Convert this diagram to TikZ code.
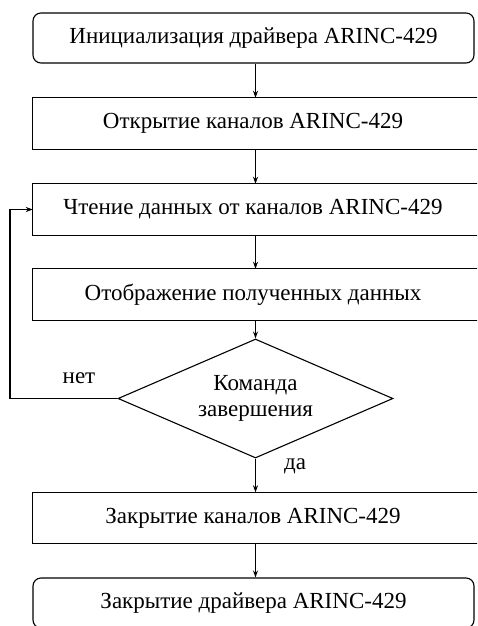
\documentclass[tikz,border=0pt]{standalone}
\usepackage{fontspec}
\setmainfont{LiberationSerif-Regular.ttf}
\usetikzlibrary{shapes.geometric,arrows.meta}
\tikzset{
  txt/.style={inner sep=0pt, font=\fontsize{23}{26}\selectfont},
  base/.style={txt, draw, line width=1.1pt},
  term/.style={base, rounded corners=8pt, minimum width=441pt, minimum height=50pt},
  proc/.style={txt, minimum width=452pt, minimum height=51pt},
  procline/.style={line width=1.1pt},
  dec/.style={base, diamond, aspect=2.31, minimum width=275pt, minimum height=119pt, align=center},
  arr/.style={line width=1.1pt, -{Stealth[length=7pt,width=5pt]}}
}
\begin{document}
\begin{tikzpicture}[x=1pt,y=-1pt]
\useasboundingbox (0,0) rectangle (477,626);
\clip (0,0) rectangle (477,626);
\node[term] (b1) at (253.5,38) {Инициализация драйвера ARINC-429};
\node[proc] (b2) at (259,123.5) {\hspace*{-12pt}Открытие каналов ARINC-429};
\node[proc] (b3) at (259,209.5) {\hspace*{-12pt}Чтение данных от каналов ARINC-429};
\node[proc] (b4) at (259,294.5) {\hspace*{-12pt}Отображение полученных данных};
\node[dec] (d) at (255.5,398.5) {Команда\\завершения};
\node[proc] (b5) at (259,518) {\hspace*{-12pt}Закрытие каналов ARINC-429};
\node[term] (b6) at (253.5,603) {Закрытие драйвера ARINC-429};
\foreach \b in {b2,b3,b4,b5}
  \draw[procline] (\b.north east) -- (\b.north west) -- (\b.south west) -- (\b.south east);
\coordinate (lp) at (10,398.5);
\node[txt] (no) at (79,378) {нет};
\node[txt] (yes) at (295,466) {да};
\draw[arr] (b1.south -| d.north) -- (b2.north -| d.north);
\draw[arr] (b2.south -| d.north) -- (b3.north -| d.north);
\draw[arr] (b3.south -| d.north) -- (b4.north -| d.north);
\draw[arr] (b4.south -| d.north) -- (d.north);
\draw[arr] (d.south) -- (b5.north -| d.south);
\draw[arr] (b5.south -| d.south) -- (b6.north -| d.south);
\draw[arr] (d.west) -- (lp) |- (b3.west);
\end{tikzpicture}
\end{document}
